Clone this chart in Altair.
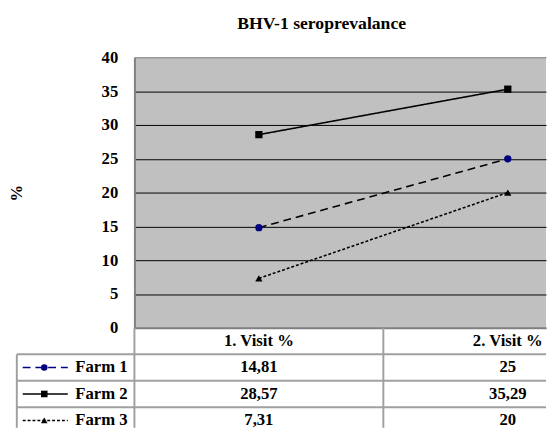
import altair as alt
import pandas as pd

# ---------------- data ----------------
title_text = "BHV-1 seroprevalance"
visits = ["1. Visit %", "2. Visit %"]
farms = ["Farm 1", "Farm 2", "Farm 3"]
visit1 = [14.81, 28.57, 7.31]
visit2 = [25, 35.29, 20]
y_ticks = [0, 5, 10, 15, 20, 25, 30, 35, 40]

# ---------------- style ----------------
farm_shapes = ["circle", "square", "triangle-up"]
farm_colors = ["#000080", "#000000", "#000000"]
farm_dashes = [[8, 5], [1, 0], [3, 2]]
FONT = "Liberation Serif"
FS = 17
GRID_GRAY = "#808080"
TABLE_GRAY = "#a0a0a0"
PLOT_FILL = "#c0c0c0"

# ---------------- layout ----------------
BAND = 254.0          # px per category band
PLOT_W = 420
PLOT_H = 276
ROW_H = 27.0
TABLE_H = 102
X_MAX = 0.5 + PLOT_W / BAND


def xd(px):
    """pixel offset from plot left edge -> x data units"""
    return 0.5 + px / BAND


def fmt(v):
    return f"{v:g}".replace(".", ",")


rows = []
for fi, f in enumerate(farms):
    for vi, vals in enumerate([visit1, visit2]):
        rows.append(dict(farm=f, row=fi + 1, pos=vi + 1, visit=visits[vi],
                         value=vals[fi], label=fmt(vals[fi])))
df = pd.DataFrame(rows)

xscale = alt.Scale(domain=[0.5, X_MAX], nice=False, zero=False)
dash_scale = alt.Scale(domain=farms, range=farm_dashes)
shape_scale = alt.Scale(domain=farms, range=farm_shapes)
color_scale = alt.Scale(domain=farms, range=farm_colors)

grid_color = {"condition": {"test": "datum.value === 40 || datum.value === 0",
                            "value": GRID_GRAY}, "value": "black"}

y_axis = alt.Axis(values=y_ticks, tickCount=20, labelOverlap=False, title="%", ticks=False,
                  labelFont=FONT, labelFontSize=FS, labelFontWeight="bold",
                  labelColor="black", labelPadding=17,
                  titleFont=FONT, titleFontSize=FS, titleFontWeight="bold",
                  titleColor="black", titlePadding=71,
                  minExtent=40, maxExtent=40,
                  domainColor=GRID_GRAY, domainWidth=2,
                  grid=True, gridColor=grid_color, gridWidth=1)
y_enc = alt.Y("value:Q", scale=alt.Scale(domain=[0, 40], nice=False, zero=False), axis=y_axis)

base = alt.Chart(df)
lines = base.mark_line(strokeWidth=1.6, color="black").encode(
    x=alt.X("pos:Q", scale=xscale,
            axis=alt.Axis(title=None, labels=False, ticks=False, grid=False,
                          domainColor=GRID_GRAY, domainWidth=2)),
    y=y_enc,
    strokeDash=alt.StrokeDash("farm:N", scale=dash_scale, legend=None),
    detail="farm:N",
)
points = base.mark_point(filled=True, size=55, opacity=1).encode(
    x=alt.X("pos:Q", scale=xscale),
    y=y_enc,
    shape=alt.Shape("farm:N", scale=shape_scale, legend=None),
    color=alt.Color("farm:N", scale=color_scale, legend=None),
)
plot = alt.layer(lines, points).properties(
    width=PLOT_W, height=PLOT_H,
    view=alt.ViewBackground(fill=PLOT_FILL, stroke=None),
)

# ---------------- data table ----------------
x_left = xd(15 - 135)
yscale_t = alt.Scale(domain=[0, TABLE_H / ROW_H], nice=False, zero=False, reverse=True)

header_df = pd.DataFrame({"pos": [1, 2], "row": [0.5, 0.5], "label": visits})
cells_df = df.assign(ty=df["row"] + 0.5)
names_df = pd.DataFrame({"farm": farms, "ty": [r + 1.5 for r in range(len(farms))]})

hrules_df = pd.DataFrame({"y": [1, 2, 3], "x": [x_left] * 3, "x2": [X_MAX] * 3})
vrules_df = pd.DataFrame({"x": [0.5, 1.5, x_left],
                          "y": [0, 0, 1],
                          "y2": [TABLE_H / ROW_H] * 3})

text_kw = dict(font=FONT, fontSize=FS, fontWeight="bold", color="black", baseline="middle")

hr = alt.Chart(hrules_df).mark_rule(color=TABLE_GRAY, strokeWidth=2).encode(
    x=alt.X("x:Q", scale=xscale, axis=None),
    x2="x2:Q",
    y=alt.Y("y:Q", scale=yscale_t, axis=None),
)
vr = alt.Chart(vrules_df).mark_rule(color=TABLE_GRAY, strokeWidth=2).encode(
    x=alt.X("x:Q", scale=xscale, axis=None),
    y=alt.Y("y:Q", scale=yscale_t, axis=None),
    y2="y2:Q",
)
head = alt.Chart(header_df).mark_text(align="center", **text_kw).encode(
    x=alt.X("pos:Q", scale=xscale, axis=None),
    y=alt.Y("row:Q", scale=yscale_t, axis=None),
    text="label:N",
)
cells = alt.Chart(cells_df).mark_text(align="center", **text_kw).encode(
    x=alt.X("pos:Q", scale=xscale, axis=None),
    y=alt.Y("ty:Q", scale=yscale_t, axis=None),
    text="label:N",
)
names = alt.Chart(names_df).mark_text(align="right", **text_kw).encode(
    x=alt.X("nx:Q", scale=xscale, axis=None),
    y=alt.Y("ty:Q", scale=yscale_t, axis=None),
    text="farm:N",
).transform_calculate(nx=str(xd(128 - 135)))
sw_line = alt.Chart(names_df).mark_rule(strokeWidth=1.6).encode(
    x=alt.X("sx:Q", scale=xscale, axis=None),
    x2="sx2:Q",
    y=alt.Y("ty:Q", scale=yscale_t, axis=None),
    strokeDash=alt.StrokeDash("farm:N", scale=dash_scale, legend=None),
    color=alt.Color("farm:N", scale=color_scale, legend=None),
).transform_calculate(sx=str(xd(21 - 135)), sx2=str(xd(67 - 135)))
sw_pt = alt.Chart(names_df).mark_point(filled=True, size=45, opacity=1).encode(
    x=alt.X("px:Q", scale=xscale, axis=None),
    y=alt.Y("ty:Q", scale=yscale_t, axis=None),
    shape=alt.Shape("farm:N", scale=shape_scale, legend=None),
    color=alt.Color("farm:N", scale=color_scale, legend=None),
).transform_calculate(px=str(xd(43 - 135)))

table = alt.layer(hr, vr, head, cells, names, sw_line, sw_pt).properties(
    width=PLOT_W, height=TABLE_H,
    view=alt.ViewBackground(fill=None, stroke=None),
)

chart = alt.vconcat(plot, table, spacing=0, bounds="flush").resolve_scale(
    x="independent", y="independent"
).properties(
    title=alt.TitleParams(title_text, font=FONT, fontSize=18, fontWeight="bold",
                          color="black", anchor="middle", offset=16, dx=45),
    padding={"left": 0, "top": 3, "right": 0, "bottom": 0},
).configure_view(stroke=None)

chart.save("out.html", embed_options={"renderer": "svg", "actions": False})
